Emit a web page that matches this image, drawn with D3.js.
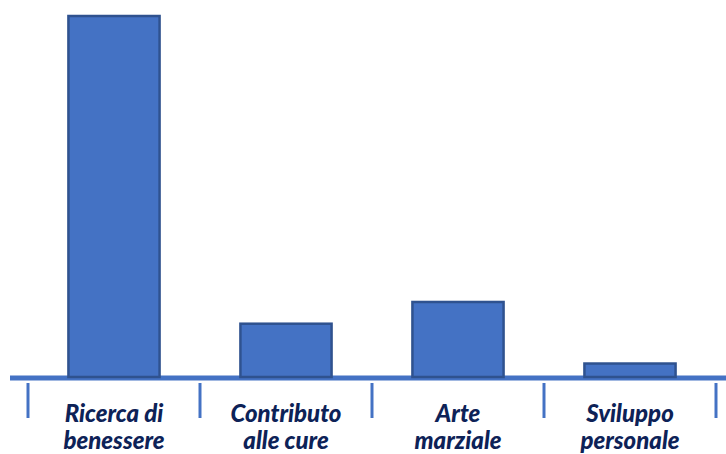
<!DOCTYPE html>
<html>
<head>
<meta charset="utf-8">
<script src="https://cdn.jsdelivr.net/npm/d3@7"></script>
<style>
  body { margin: 0; background: #fff; }
  svg { display: block; }
</style>
</head>
<body>
<div class="chart"></div>
<script>
const categories = ['Ricerca di benessere', 'Contributo alle cure', 'Arte marziale', 'Sviluppo personale'];
const labelLines = [['Ricerca di', 'benessere'], ['Contributo', 'alle cure'], ['Arte', 'marziale'], ['Sviluppo', 'personale']];
const values = [100, 15, 21, 4];

const width = 726, height = 454;
const baseY = 378;

const svg = d3.select('.chart').append('svg')
    .attr('width', width)
    .attr('height', height);

const x = d3.scaleBand()
    .domain(categories)
    .range([28, 716])
    .padding(0);

const y = d3.scaleLinear()
    .domain([0, 100])
    .range([baseY, 16]);

const barW = x.bandwidth() * 0.53;

// baseline
svg.append('line')
    .attr('x1', 10).attr('x2', width)
    .attr('y1', baseY).attr('y2', baseY)
    .attr('stroke', '#4472c4')
    .attr('stroke-width', 5);

// separator ticks between categories
const bounds = categories.map(c => x(c)).concat([x(categories[categories.length - 1]) + x.bandwidth()]);
svg.selectAll('.sep')
    .data(bounds)
    .enter()
    .append('line')
    .attr('class', 'sep')
    .attr('x1', d => d).attr('x2', d => d)
    .attr('y1', baseY + 5).attr('y2', baseY + 40)
    .attr('stroke', '#4472c4')
    .attr('stroke-width', 3);

// bars
svg.selectAll('.bar')
    .data(values)
    .enter()
    .append('rect')
    .attr('class', 'bar')
    .attr('x', (d, i) => x(categories[i]) + x.bandwidth() / 2 - barW / 2)
    .attr('y', d => y(d))
    .attr('width', barW)
    .attr('height', d => baseY - 1 - y(d))
    .attr('fill', '#4472c4')
    .attr('stroke', '#2f528f')
    .attr('stroke-width', 2.5);

// labels
const lab = svg.selectAll('.lab')
    .data(labelLines)
    .enter()
    .append('text')
    .attr('class', 'lab')
    .attr('text-anchor', 'middle')
    .attr('font-family', 'Lato, sans-serif')
    .attr('font-weight', '900')
    .attr('font-style', 'italic')
    .attr('font-size', '24px')
    .attr('fill', '#0d2257');

lab.selectAll('tspan')
    .data((d, i) => d.map(t => ({ t, i })))
    .enter()
    .append('tspan')
    .attr('x', d => x(categories[d.i]) + x.bandwidth() / 2)
    .attr('y', (d, j) => 422 + j * 27)
    .text(d => d.t);
</script>
</body>
</html>
